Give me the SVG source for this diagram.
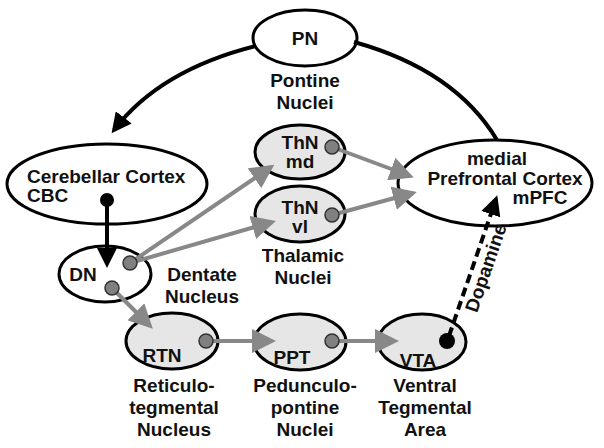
<svg xmlns="http://www.w3.org/2000/svg" width="604" height="448" viewBox="0 0 604 448">
<style>
text{font-family:"Liberation Sans",Arial,sans-serif;font-weight:bold;font-size:19px;fill:#111;text-anchor:middle}
.w{fill:#fff;stroke:#000;stroke-width:3}
.g{fill:#e6e6e6;stroke:#000;stroke-width:3}
.ga{stroke:#888;stroke-width:4;fill:none;marker-end:url(#ag)}
.ba{stroke:#000;stroke-width:4;fill:none}
.dot{fill:#808080;stroke:#333;stroke-width:1.5}
</style>
<defs>
<marker id="ag" markerWidth="6" markerHeight="6" refX="5" refY="3" orient="auto" markerUnits="strokeWidth"><path d="M0,0L6,3L0,6z" fill="#888"/></marker>
<marker id="ab" markerWidth="5" markerHeight="5" refX="4" refY="2.5" orient="auto" markerUnits="strokeWidth"><path d="M0,0L5,2.5L0,5z" fill="#000"/></marker>
</defs>
<rect width="604" height="448" fill="#fff"/>
<g id="nodes">
<g id="PN"><ellipse class="w" cx="305" cy="38" rx="52" ry="28"/><text x="305" y="45">PN</text><text x="305" y="87">Pontine</text><text x="305" y="109">Nuclei</text></g>
<g id="CBC"><ellipse class="w" cx="107" cy="184" rx="100" ry="40"/><text x="27" y="183" style="text-anchor:start">Cerebellar Cortex</text><text x="27" y="202" style="text-anchor:start">CBC</text></g>
<g id="DN"><ellipse class="w" cx="105" cy="274" rx="46" ry="28"/><text x="83" y="281">DN</text><text x="202" y="281">Dentate</text><text x="202" y="303">Nucleus</text></g>
<g id="ThNmd"><ellipse class="g" cx="300" cy="152" rx="45" ry="27"/><text x="300" y="149">ThN</text><text x="300" y="168">md</text></g>
<g id="ThNvl"><ellipse class="g" cx="300" cy="214" rx="45" ry="28"/><text x="300" y="214">ThN</text><text x="300" y="233">vl</text><text x="303" y="262">Thalamic</text><text x="303" y="284">Nuclei</text></g>
<g id="mPFC"><ellipse class="w" cx="495" cy="183" rx="97" ry="43"/><text x="497" y="165">medial</text><text x="505" y="185">Prefrontal Cortex</text><text x="540" y="204">mPFC</text></g>
<g id="RTN"><ellipse class="g" cx="172" cy="341" rx="46" ry="28"/><text x="162" y="362">RTN</text><text x="174" y="392">Reticulo-</text><text x="174" y="414">tegmental</text><text x="174" y="436">Nucleus</text></g>
<g id="PPT"><ellipse class="g" cx="300" cy="342" rx="46" ry="28"/><text x="292" y="364">PPT</text><text x="305" y="392">Pedunculo-</text><text x="305" y="414">pontine</text><text x="305" y="436">Nuclei</text></g>
<g id="VTA"><ellipse class="g" cx="422" cy="342" rx="44" ry="28"/><text x="418" y="367">VTA</text><text x="425" y="392">Ventral</text><text x="425" y="414">Tegmental</text><text x="425" y="436">Area</text></g>
</g>
<g id="connectors">
<path class="ba" d="M256,46 Q160,70 114,130" marker-end="url(#ab)"/>
<path class="ba" d="M354,42 Q455,70 497,140"/>
<path class="ba" d="M107,200 V264" marker-end="url(#ab)"/>
<circle cx="107" cy="200" r="7" fill="#000"/>
<path class="ga" d="M130,263 L271,167"/>
<path class="ga" d="M130,263 L272,222"/>
<path class="ga" d="M332,147 L410,176"/>
<path class="ga" d="M332,215 L413,193"/>
<path class="ga" d="M112,288 L150,326"/>
<path class="ga" d="M206,341 L272,341"/>
<path class="ga" d="M332,341 L395,341"/>
<path d="M449,336 L496,199" stroke="#000" stroke-width="4" stroke-dasharray="9,5" fill="none" marker-end="url(#ab)"/>
<circle class="dot" cx="130" cy="263" r="7"/>
<circle class="dot" cx="112" cy="288" r="7"/>
<circle class="dot" cx="332" cy="147" r="7"/>
<circle class="dot" cx="332" cy="215" r="7"/>
<circle class="dot" cx="206" cy="341" r="7"/>
<circle class="dot" cx="332" cy="341" r="7"/>
<circle cx="447" cy="341" r="8" fill="#000"/>
<text transform="translate(492,270) rotate(-71)">Dopamine</text>
</g>
</svg>
